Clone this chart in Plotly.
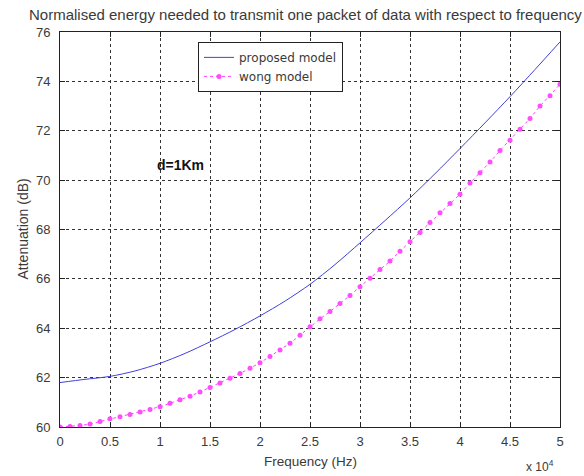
import plotly.graph_objects as go

# Frequency grid (Hz)
freq_proposed = [0, 2500, 5000, 7500, 10000, 12500, 15000, 17500, 20000, 22500,
                 25000, 27500, 30000, 32500, 35000, 37500, 40000, 42500, 45000,
                 47500, 50000]
att_proposed = [61.80, 61.93, 62.05, 62.27, 62.58, 62.98, 63.45, 63.95, 64.50,
                65.10, 65.78, 66.58, 67.46, 68.36, 69.28, 70.26, 71.28, 72.32,
                73.38, 74.48, 75.60]

freq_wong = [i * 1000 for i in range(0, 51)]
att_wong = [60.00, 60.02, 60.06, 60.12, 60.22, 60.33, 60.42, 60.51, 60.61, 60.71,
            60.82, 60.96, 61.10, 61.25, 61.42, 61.60, 61.78, 61.97, 62.17, 62.38,
            62.60, 62.86, 63.12, 63.39, 63.72, 64.06, 64.38, 64.68, 65.00, 65.33,
            65.68, 66.03, 66.38, 66.72, 67.12, 67.50, 67.88, 68.28, 68.68, 69.05,
            69.43, 69.88, 70.30, 70.73, 71.20, 71.62, 72.06, 72.50, 73.00, 73.42,
            73.88]

x_tickvals = [0, 5000, 10000, 15000, 20000, 25000, 30000, 35000, 40000, 45000, 50000]
x_ticktext = ["0", "0.5", "1", "1.5", "2", "2.5", "3", "3.5", "4", "4.5", "5"]
y_tickvals = [60, 62, 64, 66, 68, 70, 72, 74, 76]

FONT = "Liberation Sans, Arial, sans-serif"
LEGEND_FONT = "DejaVu Sans, Verdana, sans-serif"
TXT = "#3a3a3a"

fig = go.Figure()
fig.add_trace(go.Scatter(
    x=freq_proposed, y=att_proposed, mode="lines", name="proposed model",
    line=dict(color="#4040dc", width=1, shape="spline", smoothing=0.8),
))
fig.add_trace(go.Scatter(
    x=freq_wong, y=att_wong, mode="lines+markers", name="wong model",
    line=dict(color="#ff40ff", width=1, dash="dot"),
    marker=dict(color="#ff4cff", size=5, symbol="circle"),
))

axis_common = dict(
    showline=True, linecolor="#222", linewidth=1, mirror="ticks",
    ticks="inside", ticklen=5, tickcolor="#222",
    showgrid=True, gridcolor="#333", gridwidth=1, griddash="3px,3px",
    zeroline=False,
    tickfont=dict(family=FONT, size=13, color=TXT),
)

fig.update_xaxes(range=[0, 50000], tickvals=x_tickvals, ticktext=x_ticktext,
                 ticklabelstandoff=2, **axis_common)
fig.update_yaxes(range=[60, 76], tickvals=y_tickvals, ticklabelstandoff=6,
                 **axis_common)

fig.update_layout(
    width=584, height=476,
    margin=dict(l=60, r=24, t=32, b=49),
    plot_bgcolor="white", paper_bgcolor="white",
    font=dict(family=FONT, color=TXT),
    showlegend=True,
    legend=dict(
        x=0.276, y=0.975, xanchor="left", yanchor="top",
        bgcolor="white", bordercolor="#222", borderwidth=1,
        font=dict(family=LEGEND_FONT, size=12, color=TXT),
        tracegroupgap=0, itemwidth=30,
    ),
    annotations=[
        dict(text="Normalised energy needed to transmit one packet of data with respect to frequency",
             xref="paper", yref="paper", x=0.49, y=1, yshift=18, showarrow=False,
             xanchor="center", yanchor="middle",
             font=dict(family=FONT, size=15, color=TXT)),
        dict(text="Frequency (Hz)", xref="paper", yref="paper", x=0.5, y=0,
             yshift=-34, showarrow=False, xanchor="center", yanchor="middle",
             font=dict(family=FONT, size=13.5, color=TXT)),
        dict(text="x 10<sup>4</sup>", xref="paper", yref="paper", x=0.96, y=0,
             yshift=-39, showarrow=False, xanchor="center", yanchor="middle",
             font=dict(family=FONT, size=12, color=TXT)),
        dict(text="Attenuation (dB)", xref="paper", yref="paper", x=0, y=0.5,
             xshift=-38, showarrow=False, textangle=-90, xanchor="center",
             yanchor="middle", font=dict(family=FONT, size=14, color=TXT)),
        dict(text="<b>d=1Km</b>", xref="x", yref="y", x=9500, y=70.6,
             showarrow=False, xanchor="left", yanchor="middle",
             font=dict(family=FONT, size=14, color="#111")),
    ],
)

fig.write_html("out.html")
